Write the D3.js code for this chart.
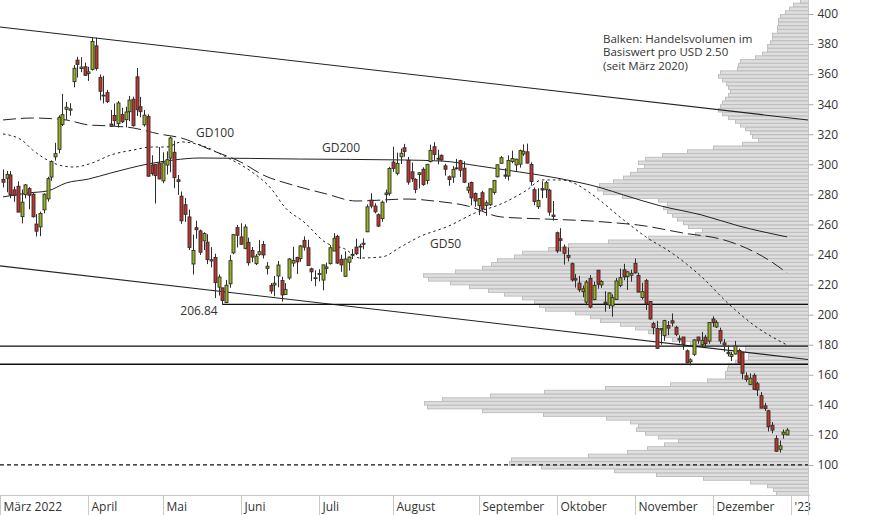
<!DOCTYPE html>
<html><head><meta charset="utf-8">
<script src="https://cdn.jsdelivr.net/npm/d3@7"></script>
<style>
html,body{margin:0;padding:0;background:#fff;}
svg{display:block;font-family:"Open Sans",sans-serif;}
</style>
</head><body>
<svg id="chart" width="874" height="515"></svg>
<script>
// ---------- DATA ----------
const monthLabels = ["März 2022","April","Mai","Juni","Juli","August","September","Oktober","November","Dezember","'23"];
const holidays = ["2022-04-15","2022-05-30","2022-06-20","2022-07-04","2022-09-05","2022-11-24","2022-12-26","2023-01-02"];
const yTicks = [100,120,140,160,180,200,220,240,260,280,300,320,340,360,380,400];
const noteLines = ["Balken: Handelsvolumen im","Basiswert pro USD 2.50","(seit März 2020)"];

// daily candles [open, high, low, close]
const mar = [[289.9,296.6,284.6,288.1],[290.7,295.5,281.4,293.3],[292.9,295.5,277.5,279.8],[283.0,285.2,275.1,279.4],[285.4,288.7,268.2,268.2],[265.2,283.3,260.7,274.8],[279.8,286.9,277.3,286.3],[283.8,284.8,270.1,279.4],[280.1,281.3,264.6,265.1],[260.2,266.9,252.0,255.5],[258.4,268.5,252.2,267.3],[269.7,280.7,267.4,280.1],[277.0,291.7,275.2,290.5],[291.5,302.6,289.1,301.8],[305.0,314.3,302.4,307.1],[310.0,332.6,307.3,331.3],[326.6,346.9,325.5,333.0],[336.6,341.5,329.6,338.0],[336.0,340.6,332.4,336.9],[355.0,366.0,351.2,363.9],[369.3,371.6,357.7,366.5],[363.7,371.3,361.3,364.7],[364.9,367.7,358.9,359.2]];
const apr = [[360.4,364.9,355.5,361.5],[363.1,384.3,362.4,381.8],[378.8,384.3,362.4,363.8],[357.8,359.7,342.6,348.6],[345.5,358.9,340.5,346.0],[347.7,349.5,340.8,341.8],[326.8,336.2,324.9,325.3],[332.5,340.4,325.5,329.0],[327.0,342.1,324.4,340.8],[333.1,337.6,327.4,328.3],[329.7,338.3,324.5,334.8],[335.0,345.5,328.7,342.7],[343.3,345.0,325.1,325.7],[358.2,364.1,332.1,336.3],[338.3,344.9,331.3,335.0],[326.3,336.2,325.1,332.7],[331.8,333.3,291.7,292.1],[299.5,306.0,292.5,293.8],[300.0,300.0,273.9,292.5],[300.8,311.5,290.0,290.3]];
const may = [[289.0,308.0,287.4,301.0],[299.5,308.6,293.2,303.1],[304.1,318.5,294.7,317.5],[308.0,315.7,284.1,291.1],[289.7,292.9,279.7,288.6],[278.8,281.9,260.4,262.4],[273.1,277.6,261.7,266.7],[265.0,269.9,243.0,244.7],[233.7,253.2,226.7,242.7],[257.8,262.5,250.5,256.5],[255.7,256.6,239.7,241.5],[249.1,254.8,243.0,253.9],[248.2,253.5,233.6,236.6],[235.7,244.9,231.4,236.5],[238.0,240.5,211.0,221.3],[218.3,226.7,212.7,225.0],[217.8,218.0,206.9,209.4],[208.0,223.1,207.7,219.6],[220.5,239.6,217.9,235.9],[241.1,253.3,240.2,253.2],[257.9,259.6,244.7,252.8]];
const jun = [[251.7,260.8,246.7,246.8],[244.1,260.1,243.5,258.3],[248.1,251.2,232.6,234.5],[242.7,245.0,234.9,238.3],[233.9,240.3,233.0,238.9],[240.1,249.7,239.2,241.9],[246.7,249.0,237.3,239.7],[230.8,234.9,226.7,232.2],[219.5,221.0,213.8,215.7],[219.7,225.7,212.2,220.9],[225.7,235.7,218.2,233.0],[222.7,225.2,208.7,213.1],[213.4,221.0,213.2,216.8],[224.4,237.6,223.2,237.0],[234.3,245.1,231.8,236.1],[238.0,238.5,227.1,235.1],[237.3,246.2,235.2,245.7],[249.4,252.1,242.6,244.9],[244.5,249.8,232.4,232.7],[230.5,231.2,222.3,228.5],[224.5,229.5,218.9,224.5]];
const jul = [[227.0,230.2,222.1,227.3],[223.0,233.1,216.2,233.1],[230.8,234.6,227.2,231.7],[233.9,246.3,233.3,244.5],[242.3,254.2,242.3,250.8],[252.1,253.1,233.6,234.3],[236.8,239.8,228.4,233.1],[225.5,242.1,225.0,237.0],[234.9,238.7,229.3,238.3],[240.0,243.6,236.9,240.1],[244.9,250.5,239.6,240.5],[245.0,247.1,237.0,245.5],[246.8,250.7,243.5,247.5],[255.1,273.3,254.9,271.7],[276.2,280.8,270.7,272.2],[272.2,274.1,267.4,268.4],[266.5,267.3,258.3,258.9],[263.9,275.9,261.8,274.8],[279.8,283.2,274.5,280.9],[280.7,298.3,279.1,297.2]];
const aug = [[301.5,311.7,295.0,297.3],[294.0,307.8,292.7,300.6],[305.0,310.5,300.2,307.4],[311.0,313.6,305.0,308.6],[302.7,304.9,286.4,288.2],[295.0,301.2,288.3,290.4],[290.0,290.7,280.8,283.3],[293.3,294.6,283.9,294.4],[296.7,298.0,285.7,286.6],[289.3,300.0,286.7,300.0],[301.8,313.1,301.2,309.3],[311.7,314.7,302.9,306.6],[303.4,309.7,300.0,304.0],[306.0,306.5,301.9,302.9],[299.0,300.4,292.5,296.7],[291.7,292.6,285.7,289.9],[291.5,298.8,287.7,296.5],[297.6,303.6,296.5,297.1],[302.4,303.0,291.6,296.1],[297.4,302.0,287.5,288.1],[282.8,287.7,280.7,284.8],[287.9,288.5,272.7,277.7],[280.6,281.3,271.8,275.6]];
const sep = [[272.6,277.6,266.2,277.2],[281.1,282.4,269.1,270.2],[272.7,276.0,265.7,274.4],[273.1,283.8,272.3,283.7],[281.3,289.5,279.8,289.3],[291.7,299.9,291.3,299.7],[300.7,305.5,300.4,304.4],[292.9,297.4,290.4,292.1],[292.2,306.0,289.3,302.6],[301.8,309.1,300.7,303.8],[299.6,303.7,295.6,303.4],[300.1,309.8,297.8,309.1],[306.9,313.3,305.6,308.7],[308.3,313.8,300.6,300.8],[299.9,301.3,285.8,288.6],[283.1,284.5,272.8,275.3],[271.8,284.1,270.3,276.0],[283.8,288.7,277.5,282.9],[283.1,289.0,277.6,287.8],[282.8,283.7,265.8,268.2],[266.2,275.6,262.5,265.3]];
const oct = [[254.5,255.2,241.0,242.4],[250.5,257.5,242.0,249.4],[245.0,246.7,233.3,240.8],[239.4,244.6,235.4,238.1],[233.9,234.6,222.0,223.1],[223.9,227.0,218.0,223.0],[221.0,225.8,215.0,216.5],[215.3,219.3,211.5,217.2],[208.3,223.0,206.2,221.7],[224.0,226.3,204.2,205.0],[210.0,221.9,209.5,219.4],[229.5,229.8,217.3,220.2],[219.8,222.9,217.8,222.0],[208.3,215.6,202.0,207.3],[206.4,214.7,203.8,214.4],[205.8,213.5,198.6,211.3],[210.1,224.4,210.0,222.4],[219.4,230.6,218.2,224.6],[229.8,233.8,222.9,225.1],[225.4,228.9,216.4,228.5],[226.2,229.9,221.9,227.5]];
const nov = [[234.1,237.4,227.3,227.8],[226.0,227.9,214.8,215.0],[211.4,221.2,210.1,215.3],[222.6,223.8,203.1,207.5],[208.7,208.9,196.7,197.1],[194.0,195.2,186.8,191.3],[190.8,195.9,177.1,177.6],[189.9,191.0,180.0,190.7],[186.0,196.5,182.6,196.0],[192.8,195.7,186.3,191.0],[195.9,200.8,192.1,194.4],[191.5,192.6,185.7,186.9],[184.0,186.2,180.9,183.2],[185.1,185.2,176.6,180.2],[175.9,176.8,167.5,167.9],[168.6,170.9,166.2,169.9],[173.6,183.6,172.5,183.2],[185.1,185.2,180.6,182.9],[180.0,188.5,179.0,182.9],[185.0,186.4,178.8,180.8],[182.4,194.8,180.6,194.7]];
const dec = [[197.1,198.9,191.8,194.7],[191.8,196.3,191.1,194.9],[189.4,191.3,180.6,182.5],[181.2,183.7,175.3,179.8],[175.0,179.4,172.2,174.0],[172.2,175.2,169.1,173.4],[173.8,182.5,173.4,179.1],[176.1,177.4,167.5,167.8],[174.9,175.1,156.9,161.0],[159.3,161.6,155.3,156.8],[153.4,160.9,153.3,157.7],[159.6,161.0,150.0,150.2],[154.0,155.3,145.8,149.9],[146.1,148.5,137.7,137.8],[139.3,141.3,135.9,137.6],[136.0,136.6,122.3,125.4],[126.4,128.6,121.0,123.2],[117.5,119.7,108.8,109.1],[110.4,116.3,108.2,112.7],[120.4,123.6,117.5,121.8],[120.0,124.5,119.8,123.2]];

// moving averages: [trading-day index, value]
const gd50 = [[0,320.2],[5,316.2],[8,309.5],[11,304.2],[15,299.6],[19,298.2],[24,300.9],[29,306.2],[35,309.5],[40,311.5],[44,311.5],[48,314.9],[53,312.9],[60,304.9],[67,294.9],[72,284.3],[76,271.0],[81,261.6],[87,247.7],[92,243.7],[96,237.7],[102,238.4],[107,245.0],[112,251.7],[120,259.0],[127,267.6],[134,273.6],[141,282.9],[145,289.6],[150,289.6],[153,288.2],[158,280.9],[167,263.0],[173,251.7],[180,241.0],[188,225.1],[195,207.8],[202,193.1],[211,179.8]];
const gd100 = [[0,329.5],[8,330.8],[17,329.5],[23,326.2],[29,325.5],[35,324.2],[42,320.2],[48,317.5],[56,309.5],[64,301.5],[70,292.9],[78,286.2],[87,280.3],[95,275.6],[109,276.9],[116,275.6],[125,272.3],[134,265.0],[146,263.6],[158,262.3],[165,261.0],[171,259.6],[183,254.3],[194,249.7],[200,244.3],[206,236.4],[211,227.7]];
const gd200 = [[0,278.3],[7,281.0],[12,282.3],[17,287.6],[23,290.2],[29,294.2],[39,300.2],[46,302.9],[53,304.2],[80,303.5],[107,302.9],[118,302.2],[128,298.9],[139,294.9],[149,290.9],[161,284.3],[167,279.6],[177,272.3],[188,266.3],[198,259.0],[211,251.7]];

// volume profile: traded volume per USD 2.50 price bin, starting at 80 USD
const volBinStart = 80, volBinSize = 2.5;
const volume = [32,35,41,58,105,152,194,267,299,297,
  220,181,161,144,130,150,163,172,170,178,
  202,265,326,381,384,366,318,264,203,138,
  101,83,83,81,80,73,60,60,63,63,
  118,136,143,160,173,188,208,218,233,263,
  269,274,286,304,320,339,358,380,385,353,
  326,317,311,294,286,260,240,200,160,113,
  106,120,125,131,136,141,145,141,150,186,
  205,211,209,195,185,178,171,164,170,163,
  146,121,95,66,50,56,58,63,68,73,
  80,86,90,88,86,83,80,78,80,82,
  86,90,88,71,70,68,53,46,41,41,
  38,36,36,31,31,30,30,28,23,19,
  15,8];

// trend channel: values at first and last trading day
const channelUpper = [391.1, 331.1];
const channelLower = [232.2, 171.8];
// horizontal levels
const supportLow = {value: 206.84, from: "2022-05-24", label: "206.84"};
const levels = [179.0, 167.0];
const dashedLevel = 100;

// ---------- BUILD ----------
const days = [];
for (let d = new Date(Date.UTC(2022,2,1)); d <= new Date(Date.UTC(2023,0,3)); d.setUTCDate(d.getUTCDate()+1)) {
  const wd = d.getUTCDay(); const s = d.toISOString().slice(0,10);
  if (wd === 0 || wd === 6 || holidays.includes(s)) continue;
  days.push(s);
}
const ohlc = [].concat(mar, apr, may, jun, jul, aug, sep, oct, nov, dec)
  .map((r,i) => ({date: days[i], o:r[0], h:r[1], l:r[2], c:r[3]}));

const plotRight = 808, plotBottom = 495;
const svg = d3.select("#chart");

const x = d3.scalePoint().domain(days).range([3, 3 + (days.length-1)*3.716]);
const y = d3.scaleLinear().domain([80, 400]).range([495, 14]);
const vx = d3.scaleLinear().domain([0, 400]).range([0, 400]);

svg.append("defs").append("clipPath").attr("id","plot")
  .append("rect").attr("x",0).attr("y",0).attr("width",plotRight).attr("height",plotBottom);

const g = svg.append("g").attr("clip-path","url(#plot)");

// volume profile
g.append("g").selectAll("rect").data(volume).join("rect")
  .attr("x", d => plotRight - vx(d) + 0.5)
  .attr("y", (d,i) => y(volBinStart + (i+1)*volBinSize) + 0.5)
  .attr("width", d => vx(d))
  .attr("height", (d,i) => y(volBinStart + i*volBinSize) - y(volBinStart + (i+1)*volBinSize) - 0.2)
  .attr("fill", "#dedede").attr("stroke", "#bfbfbf").attr("stroke-width", 1);

// channel lines
const x0 = x(days[0]), x1 = x(days[211]);
function chanVal(ch, px) { return ch[0] + (ch[1]-ch[0]) * (px - x0) / (x1 - x0); }
[channelUpper, channelLower].forEach(ch => {
  g.append("line").attr("x1",0).attr("x2",plotRight)
    .attr("y1", y(chanVal(ch,0))).attr("y2", y(chanVal(ch,plotRight)))
    .attr("stroke","#222").attr("stroke-width",1.1);
});

// horizontal levels
g.append("line").attr("x1", x(supportLow.from)).attr("x2", plotRight)
  .attr("y1", y(supportLow.value)).attr("y2", y(supportLow.value))
  .attr("stroke","#111").attr("stroke-width",1.3);
levels.forEach(v => g.append("line").attr("x1",0).attr("x2",plotRight)
  .attr("y1", y(v)).attr("y2", y(v)).attr("stroke","#111").attr("stroke-width",1.3));
g.append("line").attr("x1",0).attr("x2",plotRight)
  .attr("y1", y(dashedLevel)).attr("y2", y(dashedLevel))
  .attr("stroke","#111").attr("stroke-width",1.2).attr("stroke-dasharray","4,3");

// moving averages
const maLine = d3.line().x(d => x(days[d[0]])).y(d => y(d[1])).curve(d3.curveMonotoneX);
g.append("path").attr("d", maLine(gd200)).attr("fill","none").attr("stroke","#222").attr("stroke-width",1);
g.append("path").attr("d", maLine(gd100)).attr("fill","none").attr("stroke","#222").attr("stroke-width",1).attr("stroke-dasharray","13,5");
g.append("path").attr("d", maLine(gd50)).attr("fill","none").attr("stroke","#222").attr("stroke-width",1).attr("stroke-dasharray","2.5,3");

// candles
const cg = g.append("g");
cg.selectAll("line").data(ohlc).join("line")
  .attr("x1", d => Math.round(x(d.date))+0.5).attr("x2", d => Math.round(x(d.date))+0.5)
  .attr("y1", d => y(d.h)).attr("y2", d => y(d.l))
  .attr("stroke","#2e2e2e").attr("stroke-width",1);
cg.selectAll("rect").data(ohlc).join("rect")
  .attr("x", d => Math.round(x(d.date)) - 1)
  .attr("y", d => y(Math.max(d.o,d.c)))
  .attr("width", 3)
  .attr("height", d => Math.max(0.8, Math.abs(y(d.o)-y(d.c))))
  .attr("fill", d => d.c >= d.o ? "#9cb21c" : "#c4332a")
  .attr("stroke","#2e2e2e").attr("stroke-width",0.9);

// labels in plot
const txt = (t, px, py, anchor) => svg.append("text").attr("x",px).attr("y",py)
  .attr("font-size",12).attr("fill","#333").attr("text-anchor",anchor||"start").text(t);
txt("GD100", 196, 137);
txt("GD200", 322, 152);
txt("GD50", 430, 248);
txt(supportLow.label, 199, 315, "middle");

// note block: one text element with three lines
const note = svg.append("text").attr("x",603).attr("y",43)
  .attr("font-size",11.5).attr("fill","#333");
noteLines.forEach((t,i) => note.append("tspan").attr("x",603).attr("dy", i===0 ? 0 : 13.3).text(t));

// x axis
svg.append("line").attr("x1",0).attr("x2",810).attr("y1",495.5).attr("y2",495.5)
  .attr("stroke","#c8c8c8").attr("stroke-width",1);
const monthStarts = days.filter((d,i) => i===0 || d.slice(0,7) !== days[i-1].slice(0,7));
monthStarts.forEach((d,i) => {
  const px = i===0 ? 0.5 : Math.round(x(d)) + 0.5;
  svg.append("line").attr("x1",px).attr("x2",px).attr("y1",496).attr("y2",515)
    .attr("stroke","#c8c8c8").attr("stroke-width",1);
  svg.append("text").attr("x", px + 3).attr("y", 511).attr("font-size",12)
    .attr("fill","#333").text(monthLabels[i]);
});

// y axis
svg.append("line").attr("x1",plotRight+0.5).attr("x2",plotRight+0.5).attr("y1",0).attr("y2",515)
  .attr("stroke","#c8c8c8").attr("stroke-width",1);
const ya = svg.append("g").attr("transform",`translate(${plotRight+0.5},0)`)
  .call(d3.axisRight(y).tickValues(yTicks).tickSize(5).tickPadding(4).tickFormat(d3.format("d")));
ya.select(".domain").remove();
ya.selectAll(".tick line").attr("stroke","#aaa");
ya.selectAll(".tick text").attr("font-size",12).attr("fill","#333").attr("font-family","Open Sans, sans-serif");
</script>
</body></html>
